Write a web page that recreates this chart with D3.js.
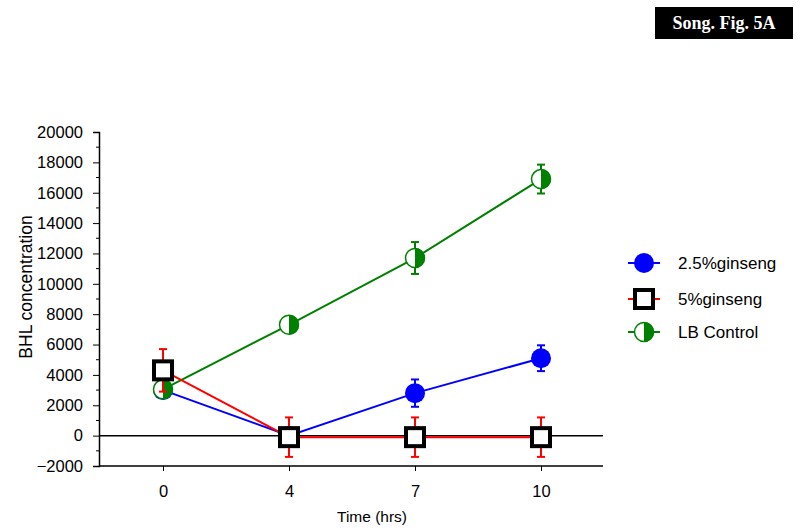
<!DOCTYPE html>
<html>
<head>
<meta charset="utf-8">
<script src="https://cdn.jsdelivr.net/npm/d3@7"></script>
<style>
  body { margin: 0; background: #fff; }
  svg { display: block; }
</style>
</head>
<body>
<svg id="chart"></svg>
<script>
const times = ["0", "4", "7", "10"];
const yTicks = [-2000, 0, 2000, 4000, 6000, 8000, 10000, 12000, 14000, 16000, 18000, 20000];

const ginseng25 = [3000, 0, 2800, 5100];
const ginseng25Err = [0, 0, 900, 850];
const ginseng5 = [4300, -100, -100, -100];
const ginseng5Err = [1400, 1300, 1300, 1300];
const lbControl = [3050, 7300, 11700, 16900];
const lbControlErr = [0, 0, 1050, 950];

const seriesNames = ["2.5%ginseng", "5%ginseng", "LB Control"];

const width = 800, height = 530;
const svg = d3.select("#chart")
  .attr("width", width)
  .attr("height", height)
  .attr("font-family", "'Liberation Sans', Arial, sans-serif");

const left = 99, right = 603;
const xScale = d3.scalePoint(times, [163, 541]);
const yScale = d3.scaleLinear([-2000, 20000], [466, 132]);

// title box
svg.append("rect")
  .attr("x", 655).attr("y", 7)
  .attr("width", 138).attr("height", 32)
  .attr("fill", "#000");
svg.append("text")
  .attr("x", 724).attr("y", 29)
  .attr("text-anchor", "middle")
  .attr("fill", "#fff")
  .attr("font-family", "'Liberation Serif', 'Times New Roman', serif")
  .attr("font-weight", "bold")
  .attr("font-size", 18)
  .text("Song. Fig. 5A");

// y axis with minor ticks
const yAxis = svg.append("g")
  .attr("transform", `translate(${left},0)`);
yAxis.call(d3.axisLeft(yScale).tickValues(yTicks).tickSize(6).tickPadding(10).tickFormat(d3.format("d")))
  .call(g => g.select(".domain").attr("stroke-width", 1.5))
  .selectAll("text")
  .attr("font-size", 16.5)
  .attr("fill", "#000");
yAxis.selectAll(".minor")
  .data(d3.range(-1000, 20000, 2000))
  .enter().append("line")
  .attr("class", "minor")
  .attr("x1", 0).attr("x2", -3)
  .attr("y1", d => yScale(d)).attr("y2", d => yScale(d))
  .attr("stroke", "#000");

// x axis at bottom
const xAxis = svg.append("g")
  .attr("transform", `translate(0,${yScale(-2000)})`);
xAxis.append("line")
  .attr("x1", left).attr("x2", right)
  .attr("stroke", "#000").attr("stroke-width", 1.5);
xAxis.call(d3.axisBottom(xScale).tickSize(5).tickPadding(14))
  .call(g => g.select(".domain").remove())
  .selectAll("text")
  .attr("font-size", 16.5)
  .attr("fill", "#000");

// zero line
svg.append("line")
  .attr("x1", left).attr("x2", right)
  .attr("y1", yScale(0)).attr("y2", yScale(0))
  .attr("stroke", "#000").attr("stroke-width", 1.5);

// axis labels
svg.append("text")
  .attr("x", 372).attr("y", 522)
  .attr("text-anchor", "middle")
  .attr("font-size", 15.5)
  .text("Time (hrs)");
svg.append("text")
  .attr("transform", "translate(32,287) rotate(-90)")
  .attr("text-anchor", "middle")
  .attr("font-size", 17.5)
  .text("BHL concentration");

function drawSeries(values, errs, color, marker) {
  const g = svg.append("g");
  g.append("path")
    .datum(values)
    .attr("fill", "none")
    .attr("stroke", color)
    .attr("stroke-width", 2)
    .attr("d", d3.line()
      .x((d, i) => xScale(times[i]))
      .y(d => yScale(d)));
  values.forEach((v, i) => {
    const cx = xScale(times[i]);
    if (errs[i] > 0) {
      const top = yScale(v + errs[i]), bot = yScale(v - errs[i]);
      g.append("line").attr("x1", cx).attr("x2", cx).attr("y1", top).attr("y2", bot)
        .attr("stroke", color).attr("stroke-width", 2);
      [top, bot].forEach(y => g.append("line")
        .attr("x1", cx - 4).attr("x2", cx + 4).attr("y1", y).attr("y2", y)
        .attr("stroke", color).attr("stroke-width", 2));
    }
    marker(g, cx, yScale(v));
  });
}

function circleMarker(g, x, y) {
  g.append("circle").attr("cx", x).attr("cy", y).attr("r", 10).attr("fill", "#0000ff");
}
function squareMarker(g, x, y) {
  g.append("rect").attr("x", x - 9).attr("y", y - 9).attr("width", 18).attr("height", 18)
    .attr("fill", "#fff").attr("stroke", "#000").attr("stroke-width", 4);
}
function halfMarker(g, x, y) {
  g.append("circle").attr("cx", x).attr("cy", y).attr("r", 9.5)
    .attr("fill", "#fff").attr("stroke", "#008000").attr("stroke-width", 1.5);
  g.append("path")
    .attr("d", `M${x},${y - 10} A10,10 0 0 1 ${x},${y + 10} Z`)
    .attr("fill", "#008000");
}

drawSeries(ginseng25, ginseng25Err, "#0000ff", circleMarker);
drawSeries(lbControl, lbControlErr, "#008000", halfMarker);
drawSeries(ginseng5, ginseng5Err, "#ff0000", squareMarker);

// legend
const legendColors = ["#0000ff", "#ff0000", "#008000"];
const legendMarkers = [circleMarker, squareMarker, halfMarker];
const legendY = [263, 299, 332];
seriesNames.forEach((name, i) => {
  const y = legendY[i];
  svg.append("line")
    .attr("x1", 628).attr("x2", 660).attr("y1", y).attr("y2", y)
    .attr("stroke", legendColors[i]).attr("stroke-width", 2);
  legendMarkers[i](svg, 644, y);
  svg.append("text")
    .attr("x", 678).attr("y", y + 6)
    .attr("font-size", 17)
    .text(name);
});
</script>
</body>
</html>
